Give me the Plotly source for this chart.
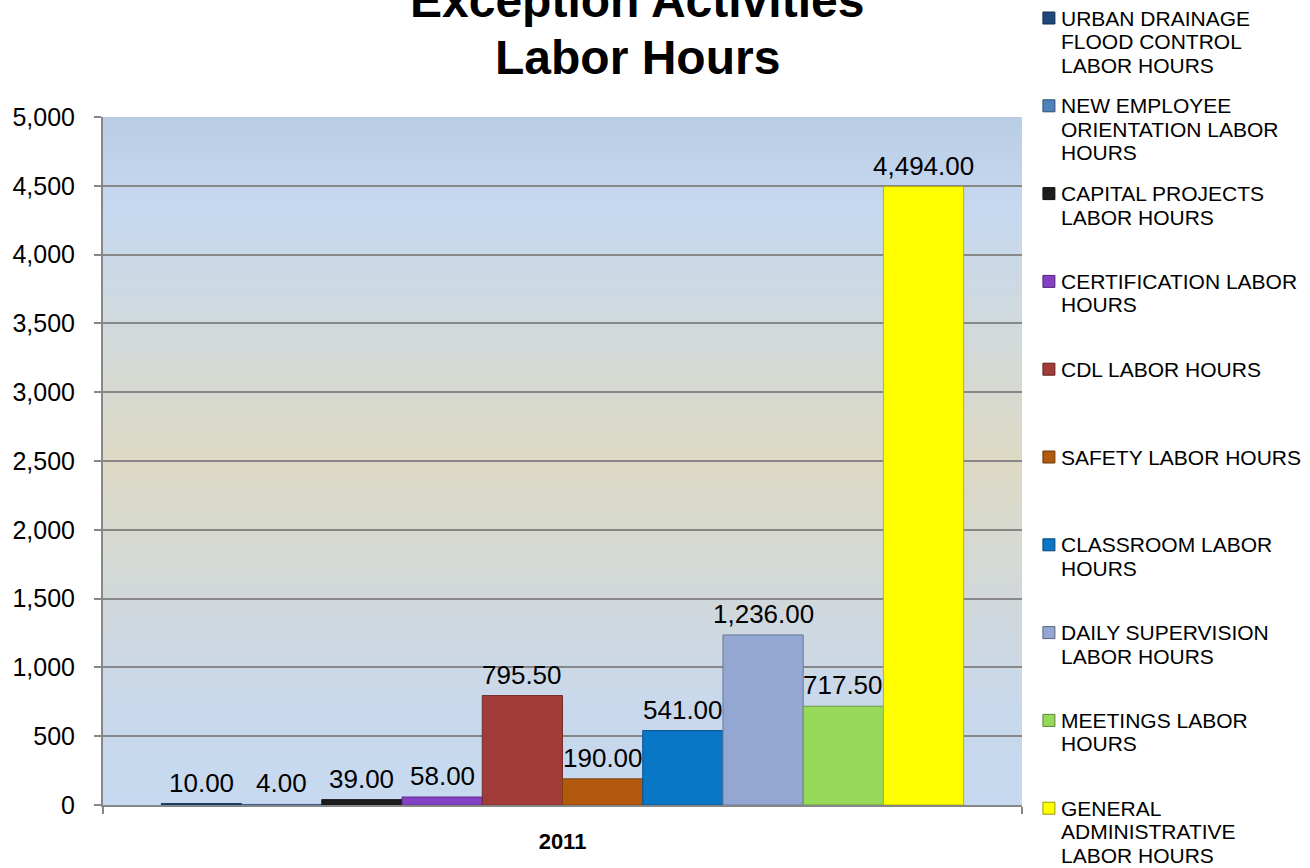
import plotly.graph_objects as go

# ---- data ----
year = ["2011"]
series_names = [
    "URBAN DRAINAGE FLOOD CONTROL LABOR HOURS",
    "NEW EMPLOYEE ORIENTATION LABOR HOURS",
    "CAPITAL PROJECTS LABOR HOURS",
    "CERTIFICATION LABOR HOURS",
    "CDL LABOR HOURS",
    "SAFETY LABOR HOURS",
    "CLASSROOM LABOR HOURS",
    "DAILY SUPERVISION LABOR HOURS",
    "MEETINGS LABOR HOURS",
    "GENERAL ADMINISTRATIVE LABOR HOURS",
]
# legend text wrapped the way it is printed
legend_lines = [
    ["URBAN DRAINAGE", "FLOOD CONTROL", "LABOR HOURS"],
    ["NEW EMPLOYEE", "ORIENTATION LABOR", "HOURS"],
    ["CAPITAL PROJECTS", "LABOR HOURS"],
    ["CERTIFICATION LABOR", "HOURS"],
    ["CDL LABOR HOURS"],
    ["SAFETY LABOR HOURS"],
    ["CLASSROOM LABOR", "HOURS"],
    ["DAILY SUPERVISION", "LABOR HOURS"],
    ["MEETINGS LABOR", "HOURS"],
    ["GENERAL", "ADMINISTRATIVE", "LABOR HOURS"],
]
hours = [10.00, 4.00, 39.00, 58.00, 795.50, 190.00, 541.00, 1236.00, 717.50, 4494.00]
colors = ["#1F497D", "#4F81BD", "#1C1C1C", "#8440C4", "#A23C3A",
          "#B3590E", "#0A76C6", "#93A7D2", "#97D958", "#FFFF00"]
y_ticks = list(range(0, 5001, 500))

FONT = "Arial, Liberation Sans, sans-serif"
W, H = 1310, 868
M_L, M_R, M_T, M_B = 100, 288, 117, 63
PLOT_W = W - M_L - M_R
PLOT_H = H - M_T - M_B
BARGAP = 0.127
GRID = "#878787"


def shade(hex_color, f):
    h = hex_color.lstrip("#")
    r, g, b = (int(h[i:i + 2], 16) for i in (0, 2, 4))
    return "rgb(%d,%d,%d)" % (r * f, g * f, b * f)


def lerp_color(stops, t):
    for (t0, c0), (t1, c1) in zip(stops, stops[1:]):
        if t0 <= t <= t1:
            u = 0 if t1 == t0 else (t - t0) / (t1 - t0)
            return "rgb(%d,%d,%d)" % tuple(round(a + (b - a) * u) for a, b in zip(c0, c1))
    return "rgb(%d,%d,%d)" % stops[-1][1]


fig = go.Figure()

for name, val, col in zip(series_names, hours, colors):
    fig.add_trace(go.Bar(
        x=year, y=[val], name=name,
        marker=dict(color=col, line=dict(color=shade(col, 0.72), width=1)),
        showlegend=False,
        hovertemplate="%{y:,.2f}<extra>" + name + "</extra>",
    ))

# value labels centred over each bar of the group
n = len(hours)
group_w = 1 - BARGAP
annotations = []
for i, val in enumerate(hours):
    xc = -group_w / 2 + (i + 0.5) * group_w / n
    annotations.append(dict(
        x=xc, y=val, xref="x", yref="y", text=f"{val:,.2f}",
        showarrow=False, xanchor="center", yanchor="bottom", yshift=4,
        font=dict(family=FONT, size=26, color="black"),
    ))

# title, two lines
for txt, ypix in (("Exception Activities", 1), ("Labor Hours", 58)):
    annotations.append(dict(
        x=(636 - M_L) / PLOT_W, y=(M_T + PLOT_H - ypix) / PLOT_H,
        xref="paper", yref="paper", text="<b>" + txt + "</b>",
        showarrow=False, xanchor="center", yanchor="middle",
        font=dict(family=FONT, size=48, color="black"),
    ))

# legend at the right
shapes = []
for k, (lines, col) in enumerate(zip(legend_lines, colors)):
    y0 = 18 + 87.8 * k
    for j, ln in enumerate(lines):
        yp = y0 + 23.5 * j
        annotations.append(dict(
            x=(1059 - M_L) / PLOT_W, y=(M_T + PLOT_H - yp) / PLOT_H,
            xref="paper", yref="paper", text=ln, showarrow=False,
            xanchor="left", yanchor="middle",
            font=dict(family=FONT, size=21, color="black"),
        ))
    shapes.append(dict(
        type="rect", xref="paper", yref="paper",
        x0=(1043 - M_L) / PLOT_W, x1=(1055 - M_L) / PLOT_W,
        y0=(M_T + PLOT_H - (y0 + 6)) / PLOT_H, y1=(M_T + PLOT_H - (y0 - 6)) / PLOT_H,
        fillcolor=col, line=dict(color=shade(col, 0.6), width=1),
    ))

# plot-area gradient fill (overlapping bands so no seams show)
stops = [(0.0, (185, 205, 229)), (0.14, (198, 217, 240)), (0.5, (221, 217, 196)),
         (0.86, (200, 216, 236)), (1.0, (198, 217, 240))]
bands = 140
for b in range(bands):
    t = (b + 0.5) / bands
    shapes.append(dict(
        type="rect", xref="paper", yref="paper", layer="below",
        x0=0, x1=1, y0=max(0, 1 - (b + 2) / bands), y1=1 - b / bands,
        fillcolor=lerp_color(stops, t), line=dict(width=0),
    ))

fig.update_layout(
    width=W, height=H,
    margin=dict(l=M_L, r=M_R, t=M_T, b=M_B, pad=0),
    paper_bgcolor="white", plot_bgcolor="rgba(0,0,0,0)",
    barmode="group", bargap=BARGAP, bargroupgap=0,
    showlegend=False,
    annotations=annotations, shapes=shapes,
    font=dict(family=FONT, color="black"),
)
fig.update_xaxes(
    type="category", showgrid=False, showline=True, linecolor=GRID, linewidth=2,
    ticks="outside", tickson="boundaries", ticklen=7, tickcolor=GRID, tickwidth=2,
    tickfont=dict(family=FONT, size=22, color="black"),
    tickvals=year, ticktext=["<b>" + y + "</b>" for y in year],
    ticklabelstandoff=16,
)
fig.update_yaxes(
    range=[0, 5000], tickvals=y_ticks, tickformat=",",
    showgrid=True, gridcolor=GRID, gridwidth=2,
    showline=True, linecolor=GRID, linewidth=2,
    ticks="outside", ticklen=7, tickcolor=GRID, tickwidth=2,
    tickfont=dict(family=FONT, size=25, color="black"),
    ticklabelstandoff=14, zeroline=False,
)

fig.write_html("out.html")
